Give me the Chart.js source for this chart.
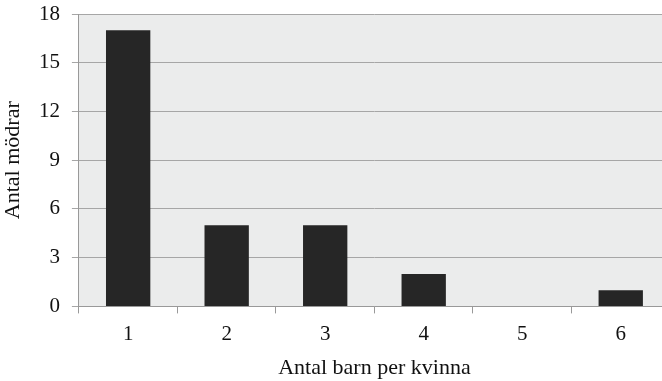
<!DOCTYPE html>
<html><head><meta charset="utf-8">
<script src="https://cdn.jsdelivr.net/npm/chart.js@4/dist/chart.umd.min.js"></script>
<style>html,body{margin:0;padding:0;overflow:hidden;background:#fff;width:662px;height:381px}#c{display:block}</style>
</head><body>
<canvas id="c" width="670" height="381" style="width:670px;height:381px"></canvas>
<script>
const categories = ["1","2","3","4","5","6"];
const mothers = [17,5,5,2,0,1];
const yTicks = [0,3,6,9,12,15,18];
const xTitle = "Antal barn per kvinna";
const yTitle = "Antal mödrar";

const bgPlugin = {
  id:'bg',
  beforeDraw(chart){
    const {ctx, chartArea:a} = chart;
    ctx.save(); ctx.fillStyle='#ebecec';
    ctx.fillRect(a.left,a.top,a.right-a.left,a.bottom-a.top);
    ctx.restore();
  }
};
const fam = '"Liberation Serif","Times New Roman",serif';
const font = {family:fam, size:21};
const tfont = {family:fam, size:22};
new Chart(document.getElementById('c'),{
  type:'bar',
  data:{labels:categories,datasets:[{data:mothers,backgroundColor:'#262626',barPercentage:0.45,categoryPercentage:1}]},
  options:{
    responsive:false,animation:false,
    layout:{padding:{top:14,right:0,left:0,bottom:0}},
    plugins:{legend:{display:false},tooltip:{enabled:false}},
    scales:{
      x:{offset:true,
        grid:{offset:true,drawOnChartArea:false,color:'#999',tickLength:7},
        border:{color:'#999'},
        ticks:{color:'#111',font:font,padding:8},
        title:{display:true,text:xTitle,color:'#111',font:tfont,padding:{top:0,bottom:0}}},
      y:{min:0,max:18,
        afterBuildTicks(s){s.ticks=yTicks.map(v=>({value:v}));},
        afterFit(s){s.paddingTop=0;},
        grid:{color:'#a6a6a6',tickLength:7},
        border:{color:'#999'},
        ticks:{color:'#111',font:font,padding:12},
        title:{display:true,text:yTitle,color:'#111',font:tfont,padding:{top:0,bottom:0.5}}}
    }
  },
  plugins:[bgPlugin]
});
</script>
</body></html>
